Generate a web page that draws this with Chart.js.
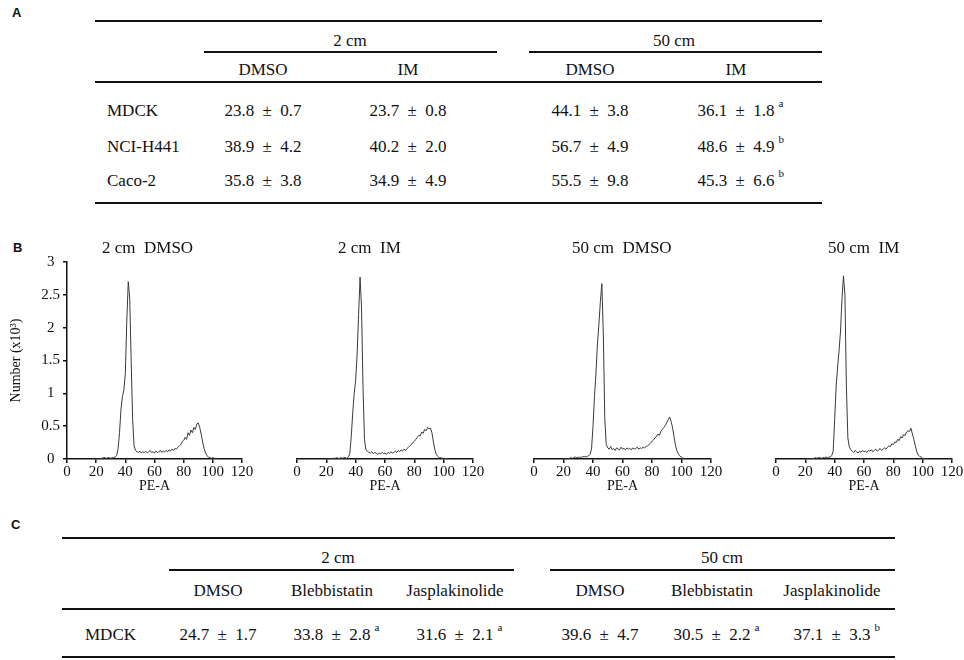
<!DOCTYPE html>
<html lang="en">
<head>
<meta charset="utf-8">
<title>Cell cycle distribution</title>
<style>
  * { margin: 0; padding: 0; box-sizing: border-box; }
  body {
    width: 964px; height: 660px; position: relative; overflow: hidden;
    background: #fff; color: #111;
    font-family: "Liberation Serif", "Times New Roman", serif;
  }
  .panel { position: absolute; font-family: "Liberation Sans", Arial, sans-serif; font-weight: bold; font-size: 13px; line-height: 1; }
  .rule { position: absolute; background: #111; }
  .txt { position: absolute; font-size: 17px; line-height: 1; white-space: nowrap; transform: translate(-50%, -50%); }
  .lbl { position: absolute; font-size: 17px; line-height: 1; white-space: nowrap; transform: translateY(-50%); }
  .sup { position: absolute; left: 100%; top: -4px; margin-left: 4px; font-size: 11px; }
  .pm { margin: 0 4px; }
  canvas { position: absolute; }
</style>
</head>
<body>
<script src="https://cdn.jsdelivr.net/npm/chart.js@4.4.1/dist/chart.umd.min.js"></script>
<script>
// ---- table A data ----
const cellLines = ["MDCK", "NCI-H441", "Caco-2"];
const heightGroups = ["2 cm", "50 cm"];
const treatA = ["DMSO", "IM", "DMSO", "IM"];
const meanA = [[23.8, 23.7, 44.1, 36.1], [38.9, 40.2, 56.7, 48.6], [35.8, 34.9, 55.5, 45.3]];
const sdA = [[0.7, 0.8, 3.8, 1.8], [4.2, 2.0, 4.9, 4.9], [3.8, 4.9, 9.8, 6.6]];
const markA = [["", "", "", "a"], ["", "", "", "b"], ["", "", "", "b"]];

// ---- table C data ----
const treatC = ["DMSO", "Blebbistatin", "Jasplakinolide", "DMSO", "Blebbistatin", "Jasplakinolide"];
const meanC = [24.7, 33.8, 31.6, 39.6, 30.5, 37.1];
const sdC = [1.7, 2.8, 2.1, 4.7, 2.2, 3.3];
const markC = ["", "a", "a", "", "a", "b"];

// ---- panel B histograms ----
const histTitles = ["2 cm\u00a0\u00a0DMSO", "2 cm\u00a0\u00a0IM", "50 cm\u00a0\u00a0DMSO", "50 cm\u00a0\u00a0IM"];
const peA = [20, 21, 22, 23, 24, 25, 26, 27, 28, 29,
             30, 31, 32, 33, 34, 35, 36, 37, 38, 39,
             40, 41, 42, 43, 44, 45, 46, 47, 48, 49,
             50, 51, 52, 53, 54, 55, 56, 57, 58, 59,
             60, 61, 62, 63, 64, 65, 66, 67, 68, 69,
             70, 71, 72, 73, 74, 75, 76, 77, 78, 79,
             80, 81, 82, 83, 84, 85, 86, 87, 88, 89,
             90, 91, 92, 93, 94, 95, 96, 97, 98, 99,
             100, 101, 102, 103, 104];
const count2cmDmso = [0, 0, 0, 0, 0.01, 0.02, 0.02, 0.01, 0.02, 0.02,
                      0.01, 0.02, 0.02, 0.03, 0.05, 0.15, 0.4, 0.75, 0.95, 1.05,
                      1.3, 2.1, 2.7, 2.45, 1.5, 0.6, 0.2, 0.13, 0.11, 0.1,
                      0.12, 0.09, 0.11, 0.1, 0.12, 0.09, 0.11, 0.13, 0.1, 0.11,
                      0.09, 0.12, 0.1, 0.11, 0.13, 0.1, 0.12, 0.11, 0.13, 0.11,
                      0.14, 0.12, 0.15, 0.13, 0.16, 0.15, 0.18, 0.2, 0.22, 0.26,
                      0.28, 0.33, 0.3, 0.4, 0.36, 0.44, 0.4, 0.48, 0.45, 0.53,
                      0.55, 0.48, 0.38, 0.26, 0.16, 0.09, 0.05, 0.03, 0.02, 0.01,
                      0.02, 0.01, 0.01, 0.01, 0];
const count2cmIm = [0, 0, 0, 0, 0, 0.01, 0.01, 0.02, 0.01, 0.01,
                    0.02, 0.01, 0.02, 0.02, 0.01, 0.03, 0.08, 0.35, 0.7, 1.0,
                    1.2, 1.6, 2.2, 2.77, 2.3, 1.1, 0.3, 0.14, 0.12, 0.1,
                    0.09, 0.11, 0.08, 0.1, 0.09, 0.07, 0.09, 0.08, 0.1, 0.08,
                    0.09, 0.07, 0.1, 0.09, 0.11, 0.09, 0.1, 0.12, 0.1, 0.13,
                    0.11, 0.14, 0.12, 0.15, 0.13, 0.16, 0.18, 0.2, 0.22, 0.25,
                    0.27, 0.3, 0.33, 0.36, 0.35, 0.41, 0.39, 0.45, 0.43, 0.48,
                    0.46, 0.47, 0.4, 0.26, 0.14, 0.07, 0.04, 0.02, 0.02, 0.01,
                    0.01, 0.01, 0, 0, 0];
const count50cmDmso = [0, 0, 0, 0, 0.01, 0.02, 0.01, 0.02, 0.03, 0.02,
                       0.03, 0.02, 0.03, 0.03, 0.04, 0.03, 0.04, 0.05, 0.07, 0.15,
                       0.5, 0.95, 1.3, 1.75, 2.05, 2.4, 2.67, 1.9, 0.6, 0.22,
                       0.17, 0.15, 0.19, 0.14, 0.16, 0.13, 0.17, 0.15, 0.14, 0.18,
                       0.15, 0.16, 0.14, 0.17, 0.15, 0.16, 0.14, 0.17, 0.15, 0.16,
                       0.18, 0.15, 0.17, 0.16, 0.18, 0.17, 0.19, 0.2, 0.22, 0.24,
                       0.27, 0.29, 0.32, 0.34, 0.38, 0.36, 0.42, 0.45, 0.48, 0.51,
                       0.55, 0.6, 0.64, 0.57, 0.47, 0.33, 0.2, 0.12, 0.07, 0.04,
                       0.03, 0.01, 0.01, 0, 0];
const count50cmIm = [0, 0, 0, 0, 0, 0, 0.01, 0.02, 0.01, 0.02,
                     0.02, 0.01, 0.02, 0.02, 0.03, 0.02, 0.03, 0.03, 0.05, 0.12,
                     0.6, 1.1, 1.4, 1.65, 1.95, 2.45, 2.79, 2.5, 1.1, 0.32,
                     0.18, 0.14, 0.12, 0.1, 0.13, 0.11, 0.09, 0.12, 0.1, 0.13,
                     0.11, 0.12, 0.1, 0.13, 0.12, 0.14, 0.11, 0.13, 0.15, 0.12,
                     0.14, 0.16, 0.13, 0.15, 0.17, 0.15, 0.18, 0.2, 0.19, 0.23,
                     0.22, 0.26, 0.25, 0.3, 0.28, 0.34, 0.32, 0.37, 0.36, 0.41,
                     0.43, 0.42, 0.47, 0.38, 0.3, 0.2, 0.11, 0.06, 0.04, 0.03,
                     0.01, 0.01, 0, 0, 0];
const histCounts = [count2cmDmso, count2cmIm, count50cmDmso, count50cmIm];
const peTicks = [0, 20, 40, 60, 80, 100, 120];

// little helpers for the tables
function rule(x1, x2, y, w) {
  const d = document.createElement("div");
  d.className = "rule";
  d.style.left = x1 + "px";
  d.style.top = (y - w / 2) + "px";
  d.style.width = (x2 - x1) + "px";
  d.style.height = w + "px";
  document.body.appendChild(d);
}
function text(cls, x, y, html) {
  const d = document.createElement("div");
  d.className = cls;
  d.style.left = x + "px";
  d.style.top = y + "px";
  d.innerHTML = html;
  document.body.appendChild(d);
}
function cell(m, s, mark) {
  let h = m.toFixed(1) + ' <span class="pm">\u00b1</span> ' + s.toFixed(1);
  if (mark) h += '<span class="sup">' + mark + "</span>";
  return h;
}

// panel A
text("panel", 12, 6, "A");
rule(95, 822, 20.5, 2);
const groupCentreA = [350, 674];
const groupLineA = [[204, 497], [529, 822]];
heightGroups.forEach((g, i) => {
  text("txt", groupCentreA[i], 40, g);
  rule(groupLineA[i][0], groupLineA[i][1], 52, 1.5);
});
const colA = [263, 408, 590, 736];
treatA.forEach((t, i) => text("txt", colA[i], 69, t));
rule(95, 822, 82, 1.5);
const rowA = [110, 146, 180];
cellLines.forEach((c, r) => {
  text("lbl", 107, rowA[r], c);
  colA.forEach((x, k) => text("txt", x, rowA[r], cell(meanA[r][k], sdA[r][k], markA[r][k])));
});
rule(95, 822, 203, 2);

// panel C
text("panel", 11, 518, "C");
rule(62, 895, 538, 2);
const groupCentreC = [338, 722];
const groupLineC = [[169, 514], [550, 895]];
heightGroups.forEach((g, i) => {
  text("txt", groupCentreC[i], 557, g);
  rule(groupLineC[i][0], groupLineC[i][1], 570, 1.5);
});
const colC = [218, 332, 455, 600, 712, 832];
treatC.forEach((t, i) => text("txt", colC[i], 590, t));
rule(62, 895, 609, 1.5);
text("lbl", 85, 634, cellLines[0]);
colC.forEach((x, k) => text("txt", x, 634, cell(meanC[k], sdC[k], markC[k])));
rule(62, 895, 657, 2);

// panel B
text("panel", 13, 241, "B");
const plotLeft = [67, 297, 534, 776];
const plotRight = [242, 473, 711, 952];
const titleLeft = [102, 338, 572, 828];
const serif = "'Liberation Serif', 'Times New Roman', serif";

histCounts.forEach((ys, i) => {
  const first = i === 0;
  const left = first ? 0 : plotLeft[i] - 14;
  const width = plotRight[i] + 14 - left;
  const cv = document.createElement("canvas");
  cv.width = width;
  cv.height = 255;
  cv.style.left = left + "px";
  cv.style.top = "250px";
  cv.style.width = width + "px";
  cv.style.height = "255px";
  document.body.appendChild(cv);
  text("lbl", titleLeft[i], 247, histTitles[i]);

  new Chart(cv, {
    type: "line",
    data: {
      datasets: [{
        data: peA.map((x, k) => ({ x: x, y: ys[k] })),
        borderColor: "#3a3a3a",
        borderWidth: 1,
        pointRadius: 0,
        tension: 0,
        fill: false,
      }],
    },
    options: {
      responsive: false,
      animation: false,
      layout: { padding: { left: first ? 0 : 14, right: 14, top: 12, bottom: 0 } },
      plugins: { legend: { display: false }, tooltip: { enabled: false } },
      scales: {
        x: {
          type: "linear", min: 0, max: 120,
          afterBuildTicks: (s) => { s.ticks = peTicks.map(v => ({ value: v })); },
          ticks: { color: "#111", padding: 0, maxRotation: 0, minRotation: 0, autoSkip: false, font: { family: serif, size: 15 } },
          grid: { drawOnChartArea: false, drawTicks: true, tickLength: 4, color: "#111", lineWidth: 1.5 },
          border: { display: true, color: "#111", width: 1.5 },
          title: { display: true, text: "PE-A", color: "#111", padding: { top: 0, bottom: 10 }, font: { family: serif, size: 14 } },
          afterFit: (s) => { s.height = 46; },
        },
        y: {
          display: first, min: 0, max: 3,
          ticks: { stepSize: 0.5, crossAlign: "center", padding: 3, color: "#111", font: { family: serif, size: 15 },
                   callback: (v) => String(v) },
          grid: { drawOnChartArea: false, drawTicks: true, tickLength: 4, color: "#111", lineWidth: 1.5 },
          border: { display: true, color: "#111", width: 1.5 },
          title: { display: true, text: "Number (x10\u00b3)", color: "#111", padding: { top: 8, bottom: 0 }, font: { family: serif, size: 14 } },
          afterFit: (s) => { s.width = first ? 67 : 0; },
        },
      },
    },
  });
});
</script>
</body>
</html>
